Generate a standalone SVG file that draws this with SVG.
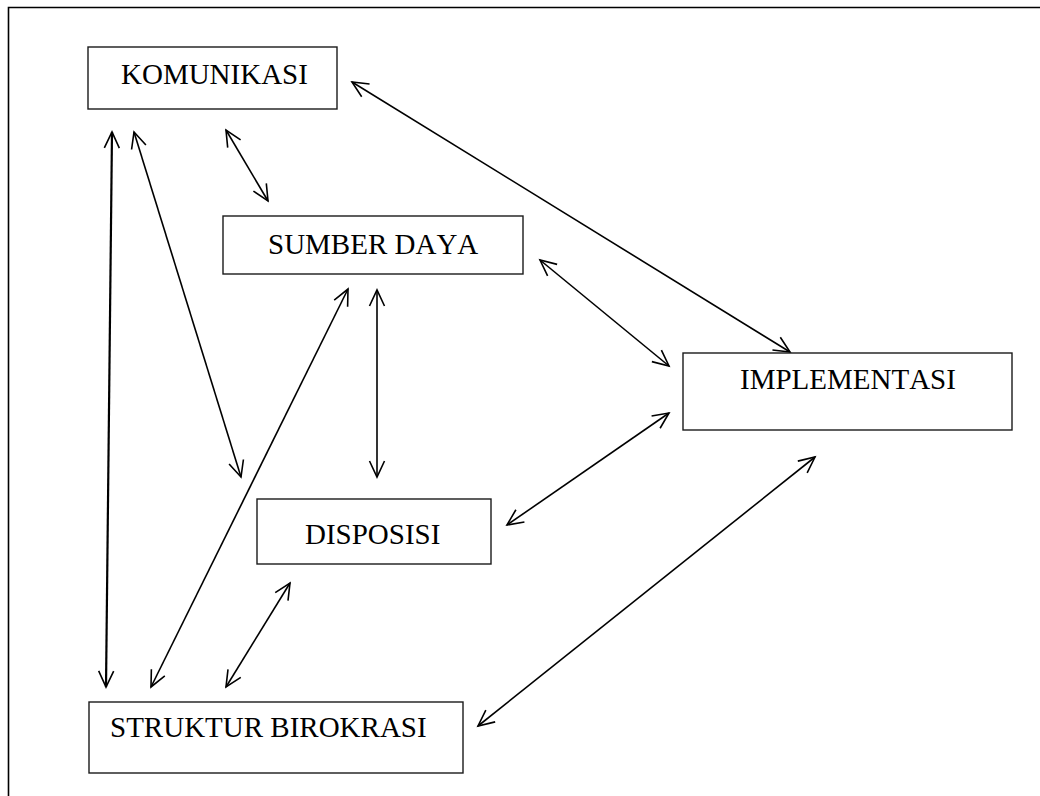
<svg xmlns="http://www.w3.org/2000/svg" width="1040" height="796" viewBox="0 0 1040 796">
<style>
.box{fill:#fff;stroke:#1a1a1a;stroke-width:1.4}
.lbl{font-family:"Liberation Serif","Times New Roman",serif;font-size:29px;fill:#000;font-kerning:none}
.c{fill:none;stroke:#000;stroke-width:1.6}
.frame{fill:none;stroke:#000;stroke-width:1.6}
</style>
<defs>
<marker id="ah" markerUnits="userSpaceOnUse" markerWidth="40" markerHeight="40" refX="0" refY="0" orient="auto-start-reverse" overflow="visible" viewBox="-20 -20 40 40">
<path d="M-16,-7.5 L0,0 L-16,7.5" fill="none" stroke="#000" stroke-width="1.6"/>
</marker>
</defs>
<rect width="1040" height="796" fill="#fff"/>
<path class="frame" d="M8.5,800 V7.5 H1045"/>
<g id="connectors">
<line class="c" style="stroke-width:2.2" x1="112" y1="132" x2="106" y2="687" marker-start="url(#ah)" marker-end="url(#ah)"/>
<line class="c" x1="134" y1="132" x2="241" y2="477" marker-start="url(#ah)" marker-end="url(#ah)"/>
<line class="c" x1="226" y1="130" x2="268" y2="201" marker-start="url(#ah)" marker-end="url(#ah)"/>
<line class="c" x1="352" y1="82" x2="790" y2="352" marker-start="url(#ah)" marker-end="url(#ah)"/>
<line class="c" x1="348" y1="289" x2="151" y2="687" marker-start="url(#ah)" marker-end="url(#ah)"/>
<line class="c" x1="377" y1="290" x2="377" y2="477" marker-start="url(#ah)" marker-end="url(#ah)"/>
<line class="c" x1="540" y1="260" x2="669" y2="366" marker-start="url(#ah)" marker-end="url(#ah)"/>
<line class="c" x1="507" y1="525" x2="669" y2="413" marker-start="url(#ah)" marker-end="url(#ah)"/>
<line class="c" x1="290" y1="583" x2="226" y2="687" marker-start="url(#ah)" marker-end="url(#ah)"/>
<line class="c" x1="478" y1="726" x2="815" y2="457" marker-start="url(#ah)" marker-end="url(#ah)"/>
</g>
<g id="komunikasi">
<rect class="box" x="88" y="47" width="249" height="62"/>
<text class="lbl" x="121" y="84">KOMUNIKASI</text>
</g>
<g id="sumber-daya">
<rect class="box" x="223" y="216" width="300" height="58"/>
<text class="lbl" x="268" y="254">SUMBER DAYA</text>
</g>
<g id="implementasi">
<rect class="box" x="683" y="353" width="329" height="77"/>
<text class="lbl" x="740" y="389">IMPLEMENTASI</text>
</g>
<g id="disposisi">
<rect class="box" x="257" y="499" width="234" height="65"/>
<text class="lbl" x="305" y="544">DISPOSISI</text>
</g>
<g id="struktur-birokrasi">
<rect class="box" x="89" y="702" width="374" height="71"/>
<text class="lbl" x="110" y="737">STRUKTUR BIROKRASI</text>
</g>
</svg>
